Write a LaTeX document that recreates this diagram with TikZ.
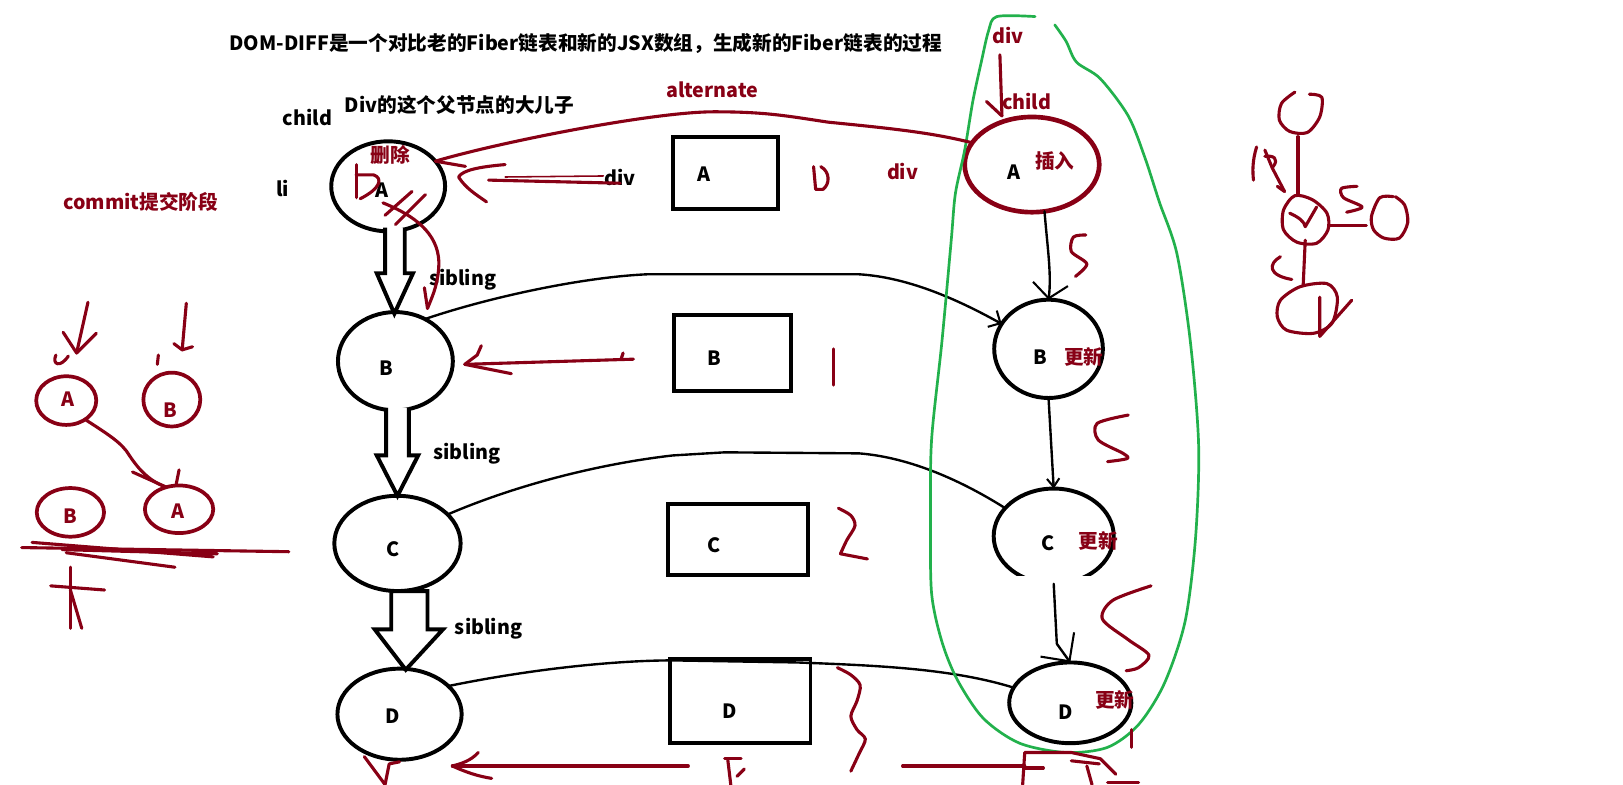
\documentclass[tikz,border=0pt]{standalone}
\usepackage{fontspec}
\setmainfont{Noto Sans CJK SC}
\usetikzlibrary{shapes.geometric,arrows.meta}
\definecolor{inkred}{RGB}{136,0,21}
\definecolor{inkgreen}{RGB}{34,177,76}
\begin{document}
\begin{tikzpicture}[x=1pt,y=-1pt,
  every node/.style={inner sep=0pt, outer sep=0pt},
  txt/.style={font=\bfseries\fontsize{19}{19}\selectfont, text=black},
  rtxt/.style={txt, text=inkred},
  fib/.style={ellipse, draw=black, line width=3.8pt},
  rfib/.style={ellipse, draw=inkred, line width=3.6pt},
  jsx/.style={draw=black, line width=3.8pt},
  link/.style={draw=black, line width=2.3pt, line cap=round, line join=round},
  pen/.style={draw=inkred, line width=3pt, line cap=round, line join=round},
  hull/.style={draw=inkgreen, line width=2.6pt, line cap=round, line join=round},
  hollow/.style={draw=black, fill=white, line width=3.8pt, line join=miter},
  barb/.style={-{Straight Barb[length=9pt,width=18pt,line width=2pt]}},
]
\fill[white] (0,0) rectangle (1568,758);
\useasboundingbox (0,0) rectangle (1568,758);

% ---------- headings and free labels ----------
\node[txt] (title) at (566,42) {DOM-DIFF是一个对比老的Fiber链表和新的JSX数组，生成新的Fiber链表的过程};
\node[txt] (childL) at (297,113) {child};
\node[txt] (parent) at (444,101) {Div的这个父节点的大儿子};
\node[txt] (liL) at (273,182) {li};
\node[txt] (divL) at (599,171) {div};
\node[rtxt] (alt) at (688,87) {alternate};
\node[rtxt] (commit) at (136,195) {commit提交阶段};
\node[rtxt] (divM) at (872,166) {div};
\node[rtxt] (divR) at (974,34) {div};
\node[rtxt] (childR) at (992,98) {child};

% ---------- old fiber list (left column) ----------
\node[fib, minimum width=110pt, minimum height=87pt] (lA) at (375,180) {};
\node[fib, minimum width=111pt, minimum height=95pt] (lB) at (382,349) {};
\node[fib, minimum width=122pt, minimum height=92pt] (lC) at (384,525) {};
\node[fib, minimum width=120pt, minimum height=88pt] (lD) at (386,690) {};
\node[txt] (lAt) at (369,184) {A};
\node[txt] (lBt) at (373,356) {B};
\node[txt] (lCt) at (380,531) {C};
\node[txt] (lDt) at (379,692) {D};
\node[rtxt] (del) at (377,150) {删除};

% hollow sibling arrows
\path[hollow] (372,220) -- (372,264) -- (364,264) -- (381,303) -- (399,264) -- (391,264) -- (391,220);
\path[hollow] (373,394) -- (373,440) -- (364,440) -- (384,479) -- (404,440) -- (395,440) -- (395,394);
\path[hollow] (378,571) -- (378,608) -- (362,608) -- (392,647) -- (428,608) -- (413,608) -- (413,571) -- cycle;
\node[txt] (sib1) at (447,270) {sibling};
\node[txt] (sib2) at (451,438) {sibling};
\node[txt] (sib3) at (472,607) {sibling};

% ---------- JSX array (middle column) ----------
\node[jsx, minimum width=102pt, minimum height=70pt] (bA) at (701,167) {};
\node[jsx, minimum width=113pt, minimum height=73pt] (bB) at (708,341) {};
\node[jsx, minimum width=136pt, minimum height=69pt] (bC) at (713,521) {};
\node[jsx, minimum width=136pt, minimum height=81pt] (bD) at (715,677) {};
\node[txt] (bAt) at (680,168) {A};
\node[txt] (bBt) at (690,346) {B};
\node[txt] (bCt) at (690,527) {C};
\node[txt] (bDt) at (705,687) {D};

% ---------- new fiber list (right column) ----------
\node[rfib, line width=4.5pt, minimum width=130pt, minimum height=92pt] (rA) at (997,159) {};
\node[fib, minimum width=105pt, minimum height=95pt] (rB) at (1013,337) {};
\node[ellipse, minimum width=116pt, minimum height=92pt] (rC) at (1018,518) {};
\node[fib, minimum width=118pt, minimum height=78pt] (rD) at (1034,679) {};
\begin{scope}
  \clip (900,440) rectangle (1120,556);
  \draw[black, line width=3.8pt] (rC.center) ellipse [x radius=58, y radius=46];
\end{scope}
\node[txt] (rAt) at (980,166) {A};
\node[rtxt] (ins) at (1019,156) {插入};
\node[txt] (rBt) at (1005,345) {B};
\node[rtxt] (updB) at (1047,345) {更新};
\node[txt] (rCt) at (1013,525) {C};
\node[rtxt] (updC) at (1061,523) {更新};
\node[txt] (rDt) at (1030,688) {D};
\node[rtxt] (updD) at (1077,676) {更新};

% links between old and new fibers
\draw[link, barb] (lB.55) .. controls (470,288) and (560,268) .. (625,265) -- (830,265) .. controls (880,268) and (930,292) .. (rB.152);
\draw[link] (lC.30) .. controls (500,468) and (580,448) .. (650,440) -- (700,437) -- (830,438) .. controls (880,442) and (930,465) .. (rC.150);
\draw[link] (lD.30) .. controls (520,645) and (600,638) .. (650,638) -- (770,640) .. controls (850,643) and (920,646) .. (rD.165);

% sibling chain of the new list
\draw[link, -{Straight Barb[length=14pt,width=34pt,line width=2pt]}] (rA.-75) .. controls (1012,240) and (1016,265) .. (rB.north);
\draw[link, -{Straight Barb[length=8pt,width=12pt,line width=2pt]}] (rB.south) -- (rC.north);
\coordinate (cd) at (1021,622);
\draw[link] (rC.south) -- (cd);
\draw[link, -{Straight Barb[length=20pt,width=40pt,line width=2pt]}] (cd) -- (rD.north);

% ---------- work-in-progress outline ----------
\draw[hull] plot[smooth, tension=0.5] coordinates {(1000,16) (963,16) (955,30) (948,60) (940,97) (932,145) (923,187) (919,232) (910,330) (900,425) (899,500) (900,573) (910,620) (925,657) (950,694) (985,718) (1030,727) (1070,722) (1100,700) (1125,660) (1145,600) (1155,520) (1158,430) (1150,330) (1137,245) (1120,195) (1106,152) (1090,112) (1063,76) (1040,60) (1030,40) (1019,24)};

% ---------- hand-drawn notes ----------
% parent div points to its child
\coordinate (divTop) at (966,53);
\coordinate (childTip) at (968,112);
\draw[pen] (divTop) -- (childTip);
\draw[pen] (953,98) -- (childTip);
% alternate pointer
\draw[pen] (rA.160) .. controls (900,128) and (860,124) .. (800,118) .. controls (760,112) and (740,108) .. (690,108) .. controls (630,108) and (480,138) .. (lA.28);
\draw[pen] (lA.28) -- +(29,5);
% div pointer
\coordinate (divTip) at (443,171);
\draw[pen] (divL.center) ++(0,6) -- (472,174);
\draw[pen, line width=1.5pt] (488,171) -- (583,170);
\draw[pen] (488,159) .. controls (465,161) and (447,164) .. (divTip) .. controls (450,182) and (460,188) .. (470,195);
% B pointer
\coordinate (bTip) at (449,352);
\draw[pen] (612,347) -- (bTip);
\draw[pen] (465,334) -- (461,343) -- (bTip) -- (494,361);
\draw[pen] (602,341) -- (600,347);
% delete marks on A
\draw[pen] (344,159) -- (344,191);
\draw[pen] (344,169) -- (361,169) .. controls (370,172) and (368,182) .. (348,192);
\draw[pen] (372,208) -- (398,185);
\draw[pen] (382,217) -- (411,188);
\draw[pen] (370,196) .. controls (400,208) and (423,225) .. (424,253) .. controls (424,275) and (416,290) .. (413,298);
\draw[pen] (413,298) -- (410,278);
% digits beside the JSX boxes
\draw[pen] (786,161) -- (788,183) -- (795,183) .. controls (802,178) and (802,166) .. (793,161);
\draw[pen] (805,337) -- (805,372);
\draw[pen] plot[smooth] coordinates {(810,491) (822,498) (826,508) (818,522) (812,535)} -- (838,540);
\draw[pen] plot[smooth] coordinates {(809,645) (822,652) (831,662) (828,677) (822,692) (828,705) (836,714) (830,728) (822,745)};
% S marks beside the new list
\draw[pen] plot[smooth] coordinates {(1049,227) (1037,229) (1035,243) (1050,255) (1039,267)};
\draw[pen] plot[smooth] coordinates {(1090,401) (1060,409) (1061,425) (1085,438) (1089,443) (1070,446)};
\draw[pen] plot[smooth] coordinates {(1112,566) (1075,580) (1065,598) (1090,618) (1110,633) (1100,645) (1088,648)};
\draw[pen] (1093,705) -- (1093,722);
% bottom scribbles
\coordinate (botTip) at (437,740);
\draw[pen] (665,740) -- (botTip);
\draw[pen] (462,727) .. controls (455,735) and (445,738) .. (botTip) .. controls (450,746) and (462,750) .. (475,752);
\draw[pen] (352,731) -- (372,758) -- (376,738) -- (386,736);
\draw[pen] (700,733) -- (716,733);
\draw[pen] (703,733) -- (706,758);
\draw[pen] (712,750) -- (719,743);
\draw[pen] (872,740) -- (990,740);
\draw[pen] (988,758) -- (990,727) -- (1035,727) -- (1063,733) -- (1078,748);
\draw[pen] (990,742) -- (1008,742);
\draw[pen] (1035,735) -- (1062,738);
\draw[pen] (1050,740) -- (1055,758);
\draw[pen] (1070,756) -- (1100,756);

% ---------- commit phase sketch ----------
\draw[pen] (85,292) -- (74,341);
\draw[pen] (61,321) -- (74,341) -- (93,322);
\draw[pen] (180,293) -- (176,338);
\draw[pen] (168,332) -- (176,338) -- (186,335);
\draw[pen] (54,343) .. controls (50,352) and (58,356) .. (66,344);
\draw[pen] (153,343) -- (152,352);
\node[rfib, minimum width=58pt, minimum height=47pt] (cA1) at (64,387) {};
\node[rfib, minimum width=55pt, minimum height=52pt] (cB1) at (166,386) {};
\node[rfib, minimum width=65pt, minimum height=47pt] (cB2) at (68,495) {};
\node[rfib, minimum width=66pt, minimum height=46pt] (cA2) at (173,492) {};
\node[rtxt] (cA1t) at (66,386) {A};
\node[rtxt] (cB1t) at (165,396) {B};
\node[rtxt] (cB2t) at (68,499) {B};
\node[rtxt] (cA2t) at (172,494) {A};
\draw[pen] (cA1.-45) .. controls (105,420) and (118,428) .. (125,440) .. controls (135,455) and (145,465) .. (cA2.120);
\draw[pen] (128,456) -- (cA2.120);
\draw[pen] (173,454) -- (170,469);
\draw[pen] (21,529) -- (279,533);
\draw[pen] (31,524) -- (206,538);
\draw[pen] (60,531) -- (210,535);
\draw[pen] (64,534) -- (169,548);
\draw[pen] (68,548) -- (68,607);
\draw[pen] (49,566) -- (101,570);
\draw[pen] (68,570) -- (79,607);

% ---------- fiber tree doodle ----------
\draw[pen] plot[smooth] coordinates {(1251,89) (1238,100) (1236,116) (1246,127) (1263,128) (1275,113) (1277,94) (1265,91)};
\draw[pen] (1254,132) -- (1254,188);
\draw[pen] plot[smooth cycle] coordinates {(1251,189) (1240,203) (1240,222) (1253,234) (1272,235) (1283,222) (1282,206) (1268,193)};
\draw[pen] (1246,206) .. controls (1255,210) and (1260,214) .. (1261,219) -- (1272,200);
\draw[pen] (1285,218) -- (1320,218);
\draw[pen] plot[smooth] coordinates {(1346,190) (1333,191) (1325,209) (1327,222) (1337,230) (1352,230) (1360,215) (1357,198) (1348,190)};
\draw[pen] plot[smooth] coordinates {(1311,180) (1296,182) (1298,191) (1316,200) (1301,205)};
\draw[pen] (1214,142) .. controls (1210,155) and (1210,165) .. (1211,174);
\draw[pen] (1222,145) -- (1229,162) -- (1241,185);
\draw[pen] (1234,180) -- (1241,185);
\draw[pen] (1222,151) .. controls (1230,150) and (1236,153) .. (1230,161);
\draw[pen] (1237,248) .. controls (1225,255) and (1225,266) .. (1248,270);
\draw[pen] (1261,232) -- (1259,276);
\draw[pen] plot[smooth cycle] coordinates {(1256,277) (1237,290) (1234,306) (1243,319) (1269,322) (1287,312) (1292,287) (1282,274)};
\draw[pen] (1275,287) -- (1275,325) -- (1306,290);
\end{tikzpicture}
\end{document}
